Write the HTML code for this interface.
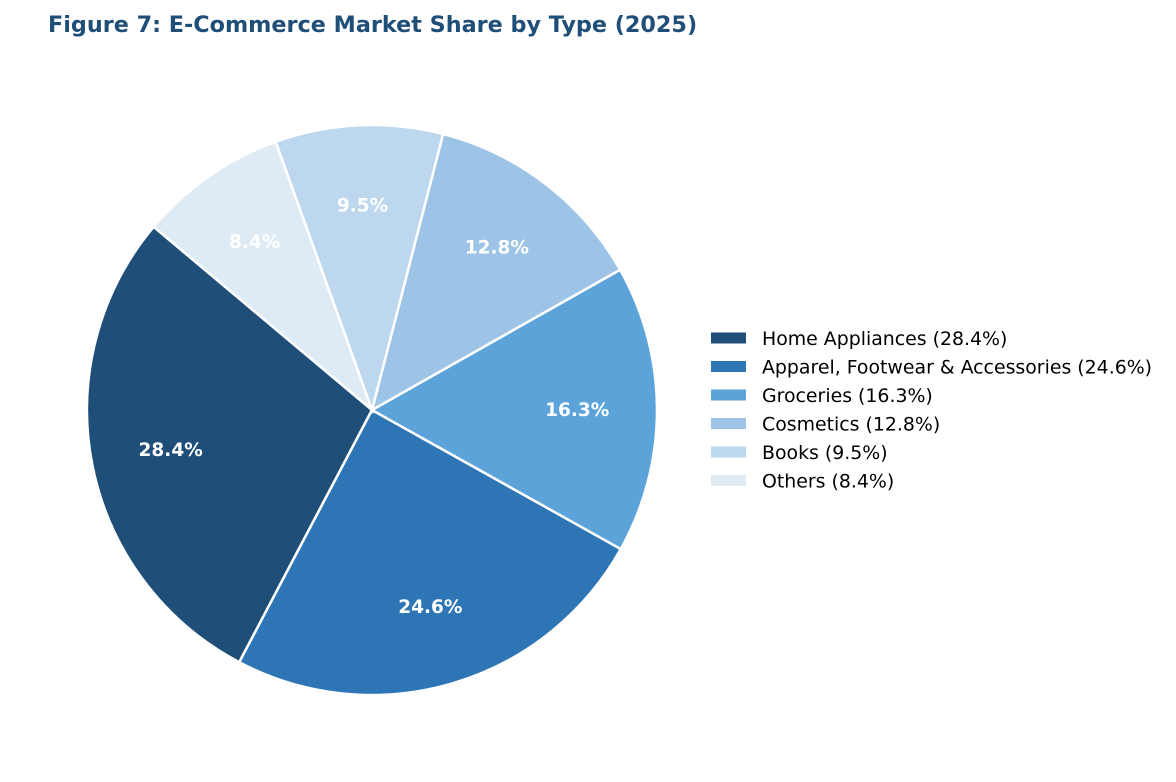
<!DOCTYPE html>
<html><head><meta charset="utf-8"><style>
body{margin:0;background:#fff;}
svg{display:block;font-family:"DejaVu Sans","Liberation Sans",sans-serif;}
</style></head><body>
<svg id="chart" width="1176" height="782">
<text x="48" y="32" font-size="22.3" font-weight="bold" fill="#1f4e79">Figure 7: E-Commerce Market Share by Type (2025)</text>
<g id="slices"></g><g id="labels"></g><g id="legend"></g>
</svg>
<script>
const categories=["Home Appliances","Apparel, Footwear & Accessories","Groceries","Cosmetics","Books","Others"];
const shares=[28.4,24.6,16.3,12.8,9.5,8.4];
const colors=["#1f4e79","#2e75b6","#5ba3d9","#9dc3e6","#bdd7ee","#deebf4"];
const NS="http://www.w3.org/2000/svg";
const cx=372,cy=410,r=285,startAngle=140;
const total=shares.reduce((a,b)=>a+b,0);
function pt(deg,rad){const a=deg*Math.PI/180;return [cx+rad*Math.cos(a),cy-rad*Math.sin(a)];}
let ang=startAngle;
const gS=document.getElementById('slices'),gL=document.getElementById('labels'),gG=document.getElementById('legend');
shares.forEach((v,i)=>{
  const sweep=v/total*360,a0=ang,a1=ang+sweep;
  const p0=pt(a0,r),p1=pt(a1,r);
  const path=document.createElementNS(NS,'path');
  path.setAttribute('d',`M${cx},${cy} L${p0[0]},${p0[1]} A${r},${r} 0 ${sweep>180?1:0} 0 ${p1[0]},${p1[1]} Z`);
  path.setAttribute('fill',colors[i]);path.setAttribute('stroke','#fff');path.setAttribute('stroke-width','2.5');
  
  
  gS.appendChild(path);
  const m=pt((a0+a1)/2,r*0.72);
  const t=document.createElementNS(NS,'text');
  t.setAttribute('x',m[0]);t.setAttribute('y',m[1]+6.5);t.setAttribute('text-anchor','middle');
  t.setAttribute('font-size','18.5');t.setAttribute('font-weight','bold');t.setAttribute('fill','#fff');
  t.textContent=v.toFixed(1)+'%';
  
  
  gL.appendChild(t);
  const y=338+i*28.5;
  const rc=document.createElementNS(NS,'rect');
  rc.setAttribute('x',711);rc.setAttribute('y',y-5.5);rc.setAttribute('width',35);rc.setAttribute('height',11);rc.setAttribute('fill',colors[i]);
  
  
  gG.appendChild(rc);
  const lt=document.createElementNS(NS,'text');
  lt.setAttribute('x',762);lt.setAttribute('y',y+7);lt.setAttribute('font-size','18.9');lt.setAttribute('fill','#000');
  lt.textContent=categories[i]+' ('+v.toFixed(1)+'%)';
  
  
  gG.appendChild(lt);
  ang=a1;
});
</script>
</body></html>
